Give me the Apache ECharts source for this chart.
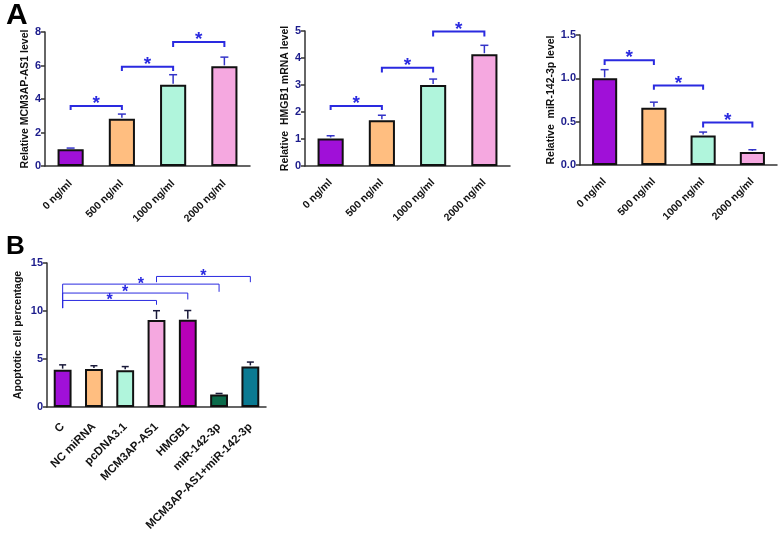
<!DOCTYPE html>
<html>
<head>
<meta charset="utf-8">
<script src="https://cdn.jsdelivr.net/npm/echarts@6/dist/echarts.min.js"></script>
<style>
  html, body { margin: 0; padding: 0; background: #fff; }
  #chart { width: 778px; height: 535px; }
</style>
</head>
<body>
<div id="chart"></div>
<script>
// ---- data ----
const doseLabels = ['0 ng/ml', '500 ng/ml', '1000 ng/ml', '2000 ng/ml'];
const mcmValues = [1.0, 2.82, 4.85, 5.95];
const mcmErr = [0.07, 0.28, 0.6, 0.55];
const hmgbValues = [1.02, 1.69, 3.0, 4.14];
const hmgbErr = [0.1, 0.19, 0.22, 0.33];
const mirValues = [1.0, 0.66, 0.34, 0.15];
const mirErr = [0.1, 0.065, 0.04, 0.026];

const groupLabels = ['C', 'NC miRNA', 'pcDNA3.1', 'MCM3AP-AS1', 'HMGB1', 'miR-142-3p', 'MCM3AP-AS1+miR-142-3p'];
const apopValues = [3.89, 3.95, 3.83, 9.06, 9.1, 1.31, 4.23];
const apopErr = [0.5, 0.35, 0.38, 0.97, 0.95, 0.1, 0.45];

// significance brackets: [from, to, line y, left leg end, right leg end]
const mcmBrackets = [[0, 1, 3.58, 3.34, 3.34], [1, 2, 5.93, 5.67, 5.67], [2, 3, 7.4, 7.1, 7.1]];
const hmgbBrackets = [[0, 1, 2.22, 2.07, 2.07], [1, 2, 3.64, 3.46, 3.46], [2, 3, 4.98, 4.8, 4.8]];
const mirBrackets = [[0, 1, 1.21, 1.155, 1.155], [1, 2, 0.917, 0.867, 0.867], [2, 3, 0.49, 0.433, 0.433]];
const apopBrackets = [[0, 3, 11.1, 10.3, 10.65], [0, 4, 11.87, 10.3, 11.2], [0, 5, 12.8, 10.3, 12.0], [3, 6, 13.6, 13.0, 13.0]];

const doseColors = ['#a010d8', '#ffbe80', '#b0f5dc', '#f5a8e0'];
const groupColors = ['#a010d8', '#ffbe80', '#b0f5dc', '#f5a8e0', '#b800b8', '#0b6b4b', '#0b7a92'];

const FONT = '"Liberation Sans", Arial, sans-serif';
const NAVY = '#1c1c8c';
const BLUE = '#2a2ae0';

const chart = echarts.init(document.getElementById('chart'));

function xAxisFor(gridIndex, labels, fontSize, margin) {
    return {
        type: 'category',
        gridIndex: gridIndex,
        data: labels,
        axisLine: { lineStyle: { color: '#333', width: 1.5 } },
        axisTick: { show: false },
        axisLabel: {
            interval: 0,
            rotate: 45,
            margin: margin,
            color: '#111',
            fontWeight: 'bold',
            fontSize: fontSize,
            fontFamily: FONT
        }
    };
}

function yAxisFor(gridIndex, name, max, interval, gap, digits) {
    return {
        type: 'value',
        gridIndex: gridIndex,
        min: 0,
        max: max,
        interval: interval,
        name: name,
        nameLocation: 'middle',
        nameRotate: 90,
        nameGap: gap,
        nameTextStyle: { color: '#111', fontWeight: 'bold', fontSize: 10.5, fontFamily: FONT },
        splitLine: { show: false },
        axisLine: { show: true, lineStyle: { color: '#333', width: 1.5 } },
        axisTick: { show: true, length: 4, lineStyle: { color: '#333', width: 1.5 } },
        axisLabel: {
            margin: 4,
            color: NAVY,
            fontWeight: 'bold',
            fontSize: 11,
            fontFamily: FONT,
            formatter: v => v.toFixed(digits)
        }
    };
}

function barSeries(idx, values, colors, width) {
    return {
        type: 'bar',
        xAxisIndex: idx,
        yAxisIndex: idx,
        barWidth: width,
        data: values.map((v, i) => ({
            value: v,
            itemStyle: { color: colors[i] }
        })),
        itemStyle: { borderColor: '#111', borderWidth: 2 },
        z: 2
    };
}

function errorSeries(idx, values, errs, color, cap) {
    return {
        type: 'custom',
        xAxisIndex: idx,
        yAxisIndex: idx,
        data: values.map((v, i) => [i, v, v + errs[i]]),
        encode: { x: 0, y: [1, 2] },
        renderItem: function (params, api) {
            const base = api.coord([api.value(0), api.value(1)]);
            const top = api.coord([api.value(0), api.value(2)]);
            const style = { stroke: color, lineWidth: 1.5 };
            return {
                type: 'group',
                children: [
                    { type: 'line', shape: { x1: base[0], y1: base[1] - 1, x2: top[0], y2: top[1] }, style: style },
                    { type: 'line', shape: { x1: top[0] - cap / 2, y1: top[1], x2: top[0] + cap / 2, y2: top[1] }, style: style }
                ]
            };
        },
        z: 1
    };
}

function bracketSeries(idx, brackets, lineWidth, starSize, starLift) {
    return {
        type: 'custom',
        xAxisIndex: idx,
        yAxisIndex: idx,
        data: brackets,
        encode: { x: [0, 1], y: [2, 3, 4] },
        renderItem: function (params, api) {
            const a = api.coord([api.value(0), api.value(2)]);
            const b = api.coord([api.value(1), api.value(2)]);
            const la = api.coord([api.value(0), api.value(3)]);
            const lb = api.coord([api.value(1), api.value(4)]);
            return {
                type: 'group',
                children: [
                    {
                        type: 'polyline',
                        shape: { points: [[la[0], la[1]], a, b, [lb[0], lb[1]]] },
                        style: { stroke: BLUE, lineWidth: lineWidth, fill: null }
                    },
                    {
                        type: 'text',
                        x: (a[0] + b[0]) / 2,
                        y: a[1] - starLift,
                        style: {
                            text: '*',
                            fill: BLUE,
                            fontSize: starSize,
                            fontWeight: 'bold',
                            fontFamily: FONT,
                            align: 'center',
                            verticalAlign: 'middle'
                        }
                    }
                ]
            };
        },
        z: 3
    };
}

const option = {
    animation: false,
    title: [
        { text: 'A', left: 1, top: -4, textStyle: { fontSize: 30, fontWeight: 'bold', color: '#000', fontFamily: FONT } },
        { text: 'B', left: 1, top: 229, textStyle: { fontSize: 26, fontWeight: 'bold', color: '#000', fontFamily: FONT } }
    ],
    grid: [
        { left: 45, top: 32, width: 205, height: 134 },
        { left: 305, top: 31, width: 205, height: 135 },
        { left: 580, top: 35, width: 197, height: 130 },
        { left: 47, top: 263, width: 219, height: 144 }
    ],
    xAxis: [
        xAxisFor(0, doseLabels, 10.5, 16),
        xAxisFor(1, doseLabels, 10.5, 15),
        xAxisFor(2, doseLabels, 10.5, 15),
        xAxisFor(3, groupLabels, 11.5, 18)
    ],
    yAxis: [
        yAxisFor(0, 'Relative MCM3AP-AS1 level', 8, 2, 12, 0),
        yAxisFor(1, 'Relative  HMGB1 mRNA level', 5, 1, 11, 0),
        yAxisFor(2, 'Relative  miR-142-3p level', 1.5, 0.5, 21, 1),
        yAxisFor(3, 'Apoptotic cell percentage', 15, 5, 23, 0)
    ],
    series: [
        barSeries(0, mcmValues, doseColors, '51%'),
        errorSeries(0, mcmValues, mcmErr, '#3434c8', 8),
        bracketSeries(0, mcmBrackets, 2, 19, 2),

        barSeries(1, hmgbValues, doseColors, '51%'),
        errorSeries(1, hmgbValues, hmgbErr, '#3434c8', 8),
        bracketSeries(1, hmgbBrackets, 2, 19, 2),

        barSeries(2, mirValues, doseColors, '51%'),
        errorSeries(2, mirValues, mirErr, '#3434c8', 8),
        bracketSeries(2, mirBrackets, 2, 19, 2),

        barSeries(3, apopValues, groupColors, '57%'),
        errorSeries(3, apopValues, apopErr, '#1a1a3a', 7),
        bracketSeries(3, apopBrackets, 1, 16, 0)
    ]
};

chart.setOption(option);
window.addEventListener('resize', () => chart.resize());
</script>
</body>
</html>
